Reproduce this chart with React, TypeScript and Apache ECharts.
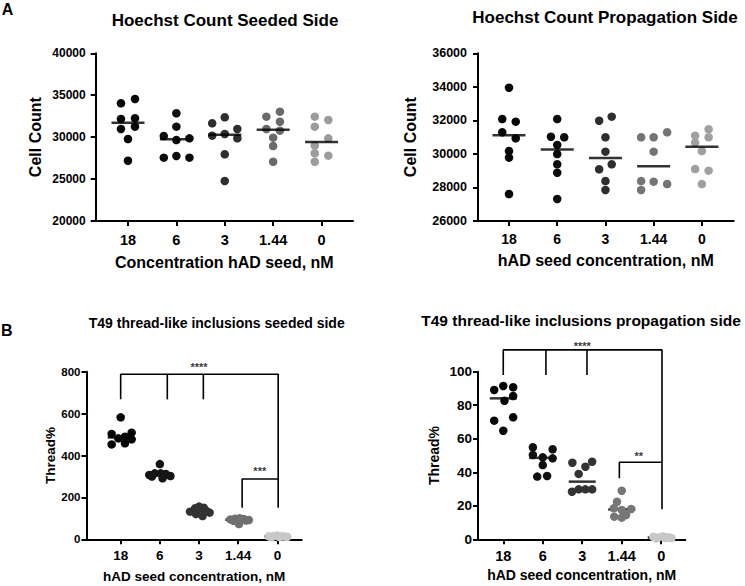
import React, { useEffect, useRef } from "react";
import * as echarts from "echarts";

const categories = ["18", "6", "3", "1.44", "0"];

// Hoechst Count Seeded Side (cell count per well)
const hoechstSeeded = [
  [34037, 34550, 32165, 32248, 30972, 31247, 29778, 27190],
  [32844, 31247, 30137, 29660, 29860, 27550, 27752, 27550],
  [31652, 32367, 30177, 30376, 30972, 29860, 27955, 24771],
  [32440, 33036, 31843, 30972, 30773, 29940, 28944, 27071],
  [32440, 32046, 31247, 29860, 29000, 28074, 27790, 27071],
];
const hoechstSeededJitter = [
  [-0.145, 0.145, -0.145, 0.145, -0.145, 0.145, 0, 0],
  [0, 0, -0.26, 0, 0.27, -0.26, 0, 0.27],
  [-0.26, 0, -0.26, 0, 0.26, 0.26, 0, 0],
  [-0.14, 0.14, 0.14, -0.14, 0.14, 0, 0, 0],
  [-0.14, 0.14, -0.14, 0.14, -0.14, -0.14, 0.14, -0.14],
];

// Hoechst Count Propagation Side
const hoechstProp = [
  [33949, 32082, 31923, 31289, 30931, 30174, 29775, 27610],
  [32082, 31027, 30991, 30532, 29995, 29381, 28880, 27312],
  [31981, 32220, 30991, 30133, 29083, 29381, 28385, 27849],
  [30991, 30991, 31289, 30133, 28385, 28345, 28206, 27849],
  [31087, 31468, 30991, 30669, 30174, 29100, 29000, 28206],
];
const hoechstPropJitter = [
  [0, -0.14, 0.14, -0.14, 0.14, 0, 0, 0],
  [0, -0.13, 0.145, 0, 0, 0, 0, 0],
  [-0.13, 0.13, 0, 0, -0.13, 0.13, 0, 0],
  [-0.26, 0, 0.28, 0, -0.26, 0, 0.28, -0.26],
  [-0.14, 0.14, 0.14, -0.14, 0, -0.14, 0.14, 0],
];

// T49 thread-like inclusions seeded side (Thread%)
const threadSeeded = [
  [582, 503, 482, 490, 509, 453, 458, 477],
  [359, 307, 315, 315, 312, 302, 291, 300],
  [132, 148, 156, 151, 127, 121, 111, 134],
  [95, 98, 100, 97, 92, 88, 73, 90],
  [14, 16, 18, 15, 12, 10, 11, 13],
];
const threadSeededJitter = [
  [0, -0.23, -0.06, 0.11, 0.28, -0.23, 0.11, 0.28],
  [0, -0.27, -0.13, 0.02, 0.15, 0.27, 0.07, -0.2],
  [-0.23, -0.1, 0, 0.12, 0.27, -0.08, 0.09, 0.2],
  [-0.2, -0.08, 0.04, 0.14, 0.27, -0.12, 0.02, 0.2],
  [-0.22, -0.1, 0, 0.12, 0.25, -0.15, 0.05, 0.18],
];

// T49 thread-like inclusions propagation side (Thread%)
const threadProp = [
  [89.1, 91.5, 90.7, 82.7, 85.5, 70.8, 72.8, 64.8],
  [54.9, 50.3, 48.9, 53.7, 48.3, 44.3, 37.4, 37.8],
  [45.7, 46.3, 43.3, 39.0, 28.4, 29.8, 29.8, 29.8],
  [29.0, 22.4, 18.5, 17.5, 18.1, 13.5, 12.9, 14.5],
  [1.5, 1.0, 1.8, 1.2, 0.8, 0.5, 0.7, 1.1],
];
const threadPropJitter = [
  [-0.23, 0, 0.25, 0.03, 0.25, -0.23, 0.25, 0],
  [-0.25, -0.25, 0, 0.25, 0.25, 0, -0.14, 0.11],
  [-0.25, 0.25, 0.08, -0.09, -0.26, -0.09, 0.08, 0.25],
  [0, -0.12, -0.2, 0, 0.24, -0.19, 0, 0.11],
  [-0.2, -0.08, 0.04, 0.15, 0.26, -0.12, 0.1, 0.2],
];

// significance brackets [x (category index), y (value)]
const seededBrackets = [
  [[0, 668], [0, 788], [4.02, 788], [4.02, 151]],
  [[1.19, 788], [1.19, 668]],
  [[2.11, 788], [2.11, 668]],
  [[3.1, 151], [3.1, 288], [4.02, 288]],
];
const seededStars = [
  { text: "****", at: [2.0, 822] },
  { text: "***", at: [3.55, 326] },
];
const propBrackets = [
  [[0, 98], [0, 113], [4.02, 113], [4.02, 18]],
  [[1.08, 113], [1.08, 98]],
  [[2.12, 113], [2.12, 98]],
  [[2.94, 36.5], [2.94, 46], [4.02, 46]],
];
const propStars = [
  { text: "****", at: [2.0, 115.6] },
  { text: "**", at: [3.43, 50] },
];

const FONT = '"Liberation Sans", Arial, Helvetica, sans-serif';

function median(arr: number[]) {
  const s = [...arr].sort((a, b) => a - b);
  const m = s.length / 2;
  return s.length % 2 ? s[Math.floor(m)] : (s[m - 1] + s[m]) / 2;
}

type PanelCfg = {
  grid: { left: number; top: number; width: number; height: number };
  xMin: number;
  xMax: number;
  yMin: number;
  yMax: number;
  yInterval: number;
  values: number[][];
  jitter: number[][];
  colors: string[];
  xName: string;
  yName: string;
  xNameSize: number;
  yNameSize: number;
  xNameGap: number;
  yNameGap: number;
  xLabelSize: number;
  yLabelSize: number;
  xLabelMargin: number;
  yLabelMargin: number;
  medianWidth: number;
  medianZ: number;
  brackets?: number[][][];
  stars?: { text: string; at: number[] }[];
};

const panels: PanelCfg[] = [
  {
    grid: { left: 95.7, top: 53.3, width: 257.3, height: 167.7 },
    xMin: -0.667, xMax: 4.65, yMin: 20000, yMax: 40000, yInterval: 5000,
    values: hoechstSeeded, jitter: hoechstSeededJitter,
    colors: ["#050505", "#0d0d0d", "#2e2e2e", "#6a6a6a", "#9c9c9c"],
    xName: "Concentration hAD seed, nM", yName: "Cell Count",
    xNameSize: 16, yNameSize: 16, xNameGap: 33, yNameGap: 52,
    xLabelSize: 14.5, yLabelSize: 12, xLabelMargin: 11, yLabelMargin: 10,
    medianWidth: 33, medianZ: 3,
  },
  {
    grid: { left: 478, top: 53.3, width: 255.7, height: 167.7 },
    xMin: -0.643, xMax: 4.66, yMin: 26000, yMax: 36000, yInterval: 2000,
    values: hoechstProp, jitter: hoechstPropJitter,
    colors: ["#050505", "#0d0d0d", "#2e2e2e", "#747474", "#a0a0a0"],
    xName: "hAD seed concentration, nM", yName: "Cell Count",
    xNameSize: 16, yNameSize: 16, xNameGap: 31.5, yNameGap: 60,
    xLabelSize: 14, yLabelSize: 12.5, xLabelMargin: 11, yLabelMargin: 11,
    medianWidth: 33, medianZ: 3,
  },
  {
    grid: { left: 86.5, top: 371.7, width: 215.2, height: 167.6 },
    xMin: -0.872, xMax: 4.62, yMin: 0, yMax: 800, yInterval: 200,
    values: threadSeeded, jitter: threadSeededJitter,
    colors: ["#050505", "#151515", "#333333", "#707070", "#c8c8c8"],
    xName: "hAD seed concentration, nM", yName: "Thread%",
    xNameSize: 13.5, yNameSize: 13.5, xNameGap: 30.5, yNameGap: 27,
    xLabelSize: 13.5, yLabelSize: 11.5, xLabelMargin: 9, yLabelMargin: 6,
    medianWidth: 26, medianZ: 1,
    brackets: seededBrackets, stars: seededStars,
  },
  {
    grid: { left: 478, top: 371.7, width: 207.3, height: 167.6 },
    xMin: -0.64, xMax: 4.61, yMin: 0, yMax: 100, yInterval: 20,
    values: threadProp, jitter: threadPropJitter,
    colors: ["#050505", "#101010", "#333333", "#777777", "#c8c8c8"],
    xName: "hAD seed concentration, nM", yName: "Thread%",
    xNameSize: 14, yNameSize: 14, xNameGap: 29, yNameGap: 37,
    xLabelSize: 14.5, yLabelSize: 13.5, xLabelMargin: 9.5, yLabelMargin: 6,
    medianWidth: 27, medianZ: 1,
    brackets: propBrackets, stars: propStars,
  },
];

const titles = [
  { text: "Hoechst Count Seeded Side", x: 225, y: 20, size: 17 },
  { text: "Hoechst Count Propagation Side", x: 605, y: 17.5, size: 17 },
  { text: "T49 thread-like inclusions seeded side", x: 216.7, y: 323, size: 14 },
  { text: "T49 thread-like inclusions propagation side", x: 581, y: 320, size: 15.5 },
];
const panelLetters = [
  { text: "A", x: 7.5, y: 9 },
  { text: "B", x: 6.7, y: 330 },
];

function buildOption() {
  const grid: any[] = [];
  const xAxis: any[] = [];
  const yAxis: any[] = [];
  const series: any[] = [];
  const ticks = categories.map((_, i) => i);

  panels.forEach((p, idx) => {
    grid.push({ ...p.grid, containLabel: false });
    xAxis.push({
      gridIndex: idx,
      type: "value",
      min: p.xMin,
      max: p.xMax,
      axisLine: { show: true, onZero: false, lineStyle: { color: "#000", width: 2 } },
      axisTick: { show: true, customValues: ticks, length: 5, lineStyle: { color: "#000", width: 2 } },
      axisLabel: {
        show: true,
        customValues: ticks,
        formatter: (v: number) => categories[Math.round(v)] ?? "",
        fontWeight: "bold",
        fontSize: p.xLabelSize,
        fontFamily: FONT,
        color: "#000",
        margin: p.xLabelMargin,
      },
      splitLine: { show: false },
      name: p.xName,
      nameLocation: "middle",
      nameGap: p.xNameGap,
      nameTextStyle: { fontWeight: "bold", fontSize: p.xNameSize, fontFamily: FONT, color: "#000" },
    });
    yAxis.push({
      gridIndex: idx,
      type: "value",
      min: p.yMin,
      max: p.yMax,
      interval: p.yInterval,
      axisLine: { show: true, onZero: false, lineStyle: { color: "#000", width: 2 } },
      axisTick: { show: true, length: 5, lineStyle: { color: "#000", width: 2 } },
      axisLabel: {
        formatter: (v: number) => String(v),
        fontWeight: "bold",
        fontSize: p.yLabelSize,
        fontFamily: FONT,
        color: "#000",
        margin: p.yLabelMargin,
      },
      splitLine: { show: false },
      name: p.yName,
      nameLocation: "middle",
      nameGap: p.yNameGap,
      nameTextStyle: { fontWeight: "bold", fontSize: p.yNameSize, fontFamily: FONT, color: "#000" },
    });

    p.values.forEach((vals, g) => {
      series.push({
        type: "scatter",
        name: `${categories[g]}-${idx}`,
        xAxisIndex: idx,
        yAxisIndex: idx,
        symbol: "circle",
        symbolSize: 8.5,
        itemStyle: { color: p.colors[g], opacity: 1 },
        data: vals.map((v, i) => [g + p.jitter[g][i], v]),
        z: 2,
      });
    });

    series.push({
      type: "scatter",
      xAxisIndex: idx,
      yAxisIndex: idx,
      symbol: "rect",
      symbolSize: [p.medianWidth, 2.5],
      itemStyle: { color: "#000" },
      data: p.values.map((vals, g) => [g, median(vals)]),
      z: p.medianZ,
    });

    (p.brackets || []).forEach((b) => {
      series.push({
        type: "line",
        xAxisIndex: idx,
        yAxisIndex: idx,
        data: b,
        symbol: "none",
        clip: false,
        lineStyle: { color: "#000", width: 1.6 },
        z: 4,
      });
    });
    (p.stars || []).forEach((s) => {
      series.push({
        type: "scatter",
        xAxisIndex: idx,
        yAxisIndex: idx,
        symbolSize: 0.1,
        clip: false,
        itemStyle: { color: "rgba(0,0,0,0)" },
        data: [s.at],
        label: {
          show: true,
          position: "inside",
          formatter: s.text,
          fontWeight: "bold",
          fontSize: 11,
          fontFamily: FONT,
          color: "#000",
        },
        z: 5,
      });
    });
  });

  const graphic: any[] = [
    ...titles.map((t) => ({
      type: "text",
      x: t.x,
      y: t.y,
      style: {
        text: t.text,
        font: `bold ${t.size}px ${FONT}`,
        fill: "#000",
        textAlign: "center",
        textVerticalAlign: "middle",
      },
    })),
    ...panelLetters.map((t) => ({
      type: "text",
      x: t.x,
      y: t.y,
      style: {
        text: t.text,
        font: `bold 16px ${FONT}`,
        fill: "#000",
        textAlign: "center",
        textVerticalAlign: "middle",
      },
    })),
  ];

  return {
    animation: false,
    backgroundColor: "#fff",
    textStyle: { fontFamily: FONT },
    grid,
    xAxis,
    yAxis,
    series,
    graphic,
  };
}

export default function App() {
  const ref = useRef<HTMLDivElement>(null);
  useEffect(() => {
    if (!ref.current) return;
    const chart = echarts.init(ref.current, null, { renderer: "svg" });
    chart.setOption(buildOption() as any);
    return () => chart.dispose();
  }, []);
  return (
    <div
      ref={ref}
      style={{ position: "fixed", left: 0, top: 0, width: 745, height: 586, background: "#fff" }}
    />
  );
}
